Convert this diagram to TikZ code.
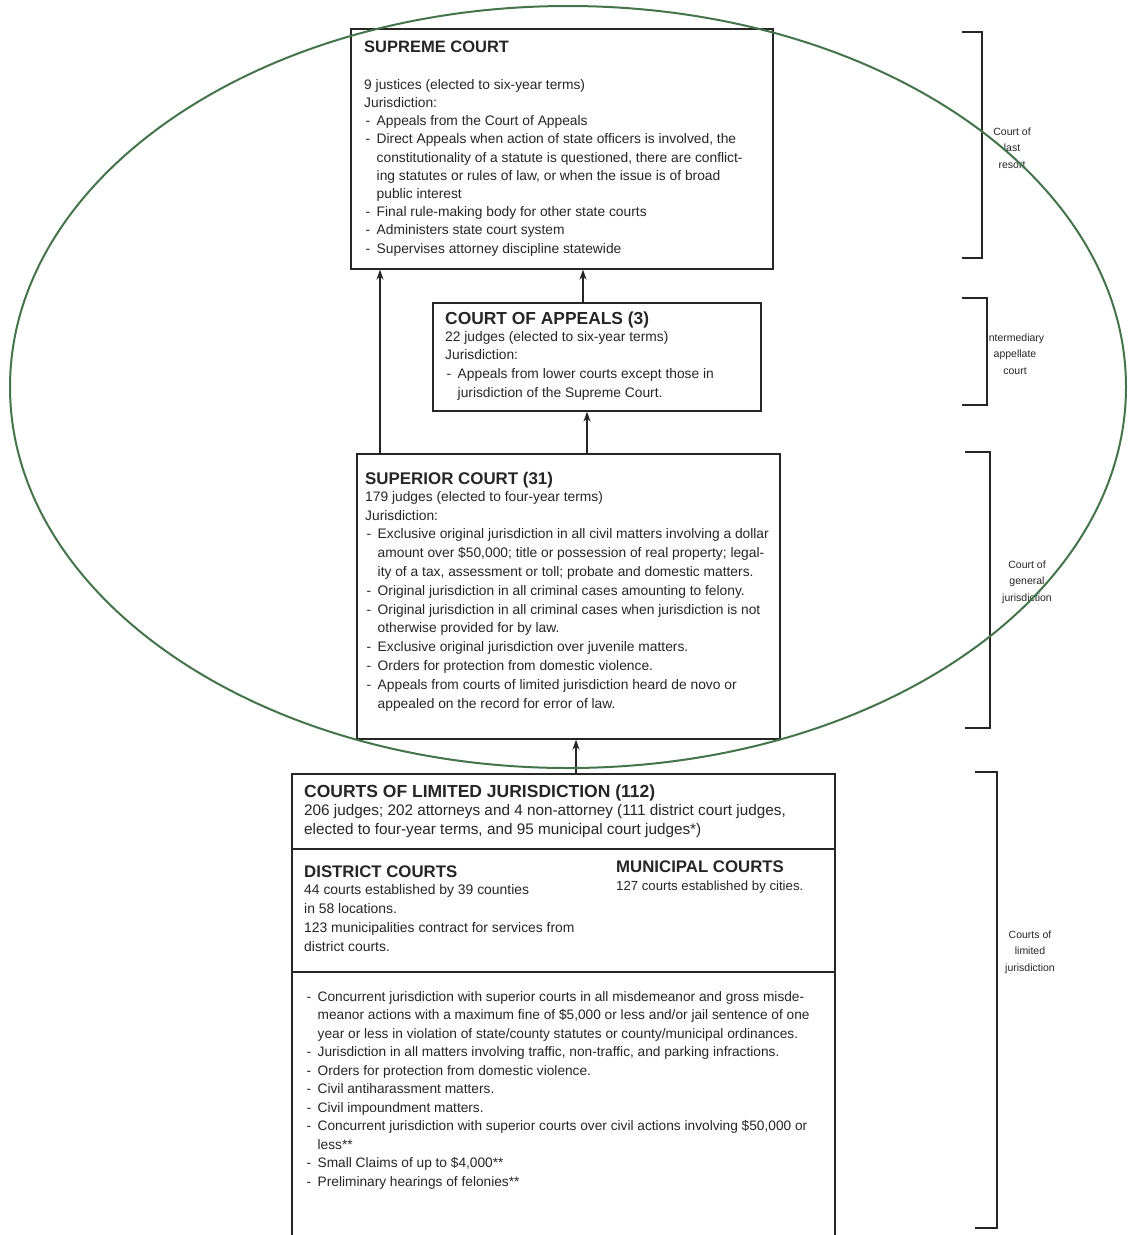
\documentclass[tikz,border=0pt]{standalone}
\usepackage{fontspec}
\setmainfont{Liberation Sans}
\usetikzlibrary{arrows.meta}
\definecolor{ink}{HTML}{262626}
\definecolor{ovalgreen}{HTML}{44744A}
\newcommand{\dsh}{\makebox[12.5pt][l]{\hspace{1.5pt}-}}
\newcommand{\ind}{\hspace*{12.5pt}}
\newcommand{\fst}{\rule{0pt}{11pt}}
\begin{document}
\begin{tikzpicture}[x=1pt,y=-1pt,
  box/.style={draw=ink, line width=1.6pt, anchor=north west, inner sep=0pt},
  ttl/.style={anchor=base west, inner sep=0pt, text=ink, font=\bfseries\fontsize{17.4}{20}\selectfont},
  body/.style={anchor=north west, inner sep=0pt, align=left, text=ink, font=\fontsize{13.8}{18.6}\selectfont},
  lab/.style={align=center, inner sep=0pt, text=ink, font=\fontsize{10.5}{16.5}\selectfont},
  arr/.style={draw=ink, line width=1.8pt, -{Stealth[length=10pt,width=7pt]}},
  brk/.style={draw=ink, line width=1.6pt},
  oval/.style={draw=ovalgreen, line width=2pt},
]
\useasboundingbox (0,0) rectangle (1132,1235);
\fill[white] (0,0) rectangle (1132,1235);

% ---------- boxes ----------
\node[box, minimum width=422pt, minimum height=240pt] (supreme) at (350,28) {};
\node[box, minimum width=328pt, minimum height=108pt] (appeals) at (432,302) {};
\node[box, minimum width=423pt, minimum height=285pt] (superior) at (356,453) {};
\node[box, minimum width=543pt, minimum height=480pt] (limited) at (291,773) {};
\coordinate (div1) at (291,849);
\coordinate (div2) at (291,972);
\draw[draw=ink, line width=1.6pt] (div1) -- (div1 -| limited.east);
\draw[draw=ink, line width=1.6pt] (div2) -- (div2 -| limited.east);

% ---------- supreme court ----------
\node[ttl, font=\bfseries\fontsize{16.5}{20}\selectfont] (supT) at (364,52) {SUPREME COURT};
\node[body, font=\fontsize{13.8}{18.2}\selectfont] (supB) at (364,78) {\fst 9 justices (elected to six-year terms)\\
Jurisdiction:\\
\dsh Appeals from the Court of Appeals\\
\dsh Direct Appeals when action of state officers is involved, the\\
\ind constitutionality of a statute is questioned, there are conflict-\\
\ind ing statutes or rules of law, or when the issue is of broad\\
\ind public interest\\
\dsh Final rule-making body for other state courts\\
\dsh Administers state court system\\
\dsh Supervises attorney discipline statewide};

% ---------- court of appeals ----------
\node[ttl] (appT) at (445,324) {COURT OF APPEALS (3)};
\node[body, font=\fontsize{13.8}{18.7}\selectfont] (appB) at (445,330) {\fst 22 judges (elected to six-year terms)\\
Jurisdiction:\\
\dsh Appeals from lower courts except those in\\
\ind jurisdiction of the Supreme Court.};

% ---------- superior court ----------
\node[ttl, font=\bfseries\fontsize{16.9}{20}\selectfont] (supcT) at (365,484) {SUPERIOR COURT (31)};
\node[body, font=\fontsize{13.8}{18.8}\selectfont] (supcB) at (365,490) {\fst 179 judges (elected to four-year terms)\\
Jurisdiction:\\
\dsh Exclusive original jurisdiction in all civil matters involving a dollar\\
\ind amount over \$50,000; title or possession of real property; legal-\\
\ind ity of a tax, assessment or toll; probate and domestic matters.\\
\dsh Original jurisdiction in all criminal cases amounting to felony.\\
\dsh Original jurisdiction in all criminal cases when jurisdiction is not\\
\ind otherwise provided for by law.\\
\dsh Exclusive original jurisdiction over juvenile matters.\\
\dsh Orders for protection from domestic violence.\\
\dsh Appeals from courts of limited jurisdiction heard de novo or\\
\ind appealed on the record for error of law.};

% ---------- courts of limited jurisdiction ----------
\node[ttl, font=\bfseries\fontsize{17.5}{20}\selectfont] (limT) at (304,797) {COURTS OF LIMITED JURISDICTION (112)};
\node[body, font=\fontsize{15.3}{19}\selectfont] (limB) at (304,804) {\fst 206 judges; 202 attorneys and 4 non-attorney (111 district court judges,\\
elected to four-year terms, and 95 municipal court judges*)};

\node[ttl, font=\bfseries\fontsize{16.8}{20}\selectfont] (distT) at (304,877) {DISTRICT COURTS};
\node[body, font=\fontsize{13.9}{19}\selectfont] (distB) at (304,883) {\fst 44 courts established by 39 counties\\
in 58 locations.\\
123 municipalities contract for services from\\
district courts.};

\node[ttl, font=\bfseries\fontsize{16.8}{20}\selectfont] (munT) at (616,872) {MUNICIPAL COURTS};
\node[body, font=\fontsize{13.2}{18.5}\selectfont] (munB) at (616,879) {\fst 127 courts established by cities.};

\node[body, font=\fontsize{13.7}{18.5}\selectfont] (limJ) at (305,990) {\fst\dsh Concurrent jurisdiction with superior courts in all misdemeanor and gross misde-\\
\ind meanor actions with a maximum fine of \$5,000 or less and/or jail sentence of one\\
\ind year or less in violation of state/county statutes or county/municipal ordinances.\\
\dsh Jurisdiction in all matters involving traffic, non-traffic, and parking infractions.\\
\dsh Orders for protection from domestic violence.\\
\dsh Civil antiharassment matters.\\
\dsh Civil impoundment matters.\\
\dsh Concurrent jurisdiction with superior courts over civil actions involving \$50,000 or\\
\ind less**\\
\dsh Small Claims of up to \$4,000**\\
\dsh Preliminary hearings of felonies**};

% ---------- arrows ----------
\coordinate (ax1) at (380,0);
\coordinate (ax2) at (583,0);
\coordinate (ax3) at (587,0);
\coordinate (ax4) at (576,0);
\draw[arr] (superior.north -| ax1) -- (supreme.south -| ax1);
\draw[arr] (appeals.north -| ax2) -- (supreme.south -| ax2);
\draw[arr] (superior.north -| ax3) -- (appeals.south -| ax3);
\draw[arr] (limited.north -| ax4) -- (superior.south -| ax4);

% ---------- brackets and level labels ----------
\draw[brk] (962,32) -- (982,32) -- (982,258) -- (962,258);
\draw[brk] (962,298) -- (987,298) -- (987,405) -- (962,405);
\draw[brk] (965,452) -- (990,452) -- (990,728) -- (965,728);
\draw[brk] (975,772) -- (997,772) -- (997,1228) -- (975,1228);

\node[lab] (lvl1) at (1012,148) {Court of\\last\\resort};
\node[lab] (lvl2) at (1015,354) {Intermediary\\appellate\\court};
\node[lab] (lvl3) at (1027,582) {Court of\\general\\jurisdiction};
\node[lab] (lvl4) at (1030,952) {Courts of\\limited\\jurisdiction};

% ---------- green oval ----------
\draw[oval] (568,387) ellipse [x radius=558, y radius=381];
\end{tikzpicture}
\end{document}
